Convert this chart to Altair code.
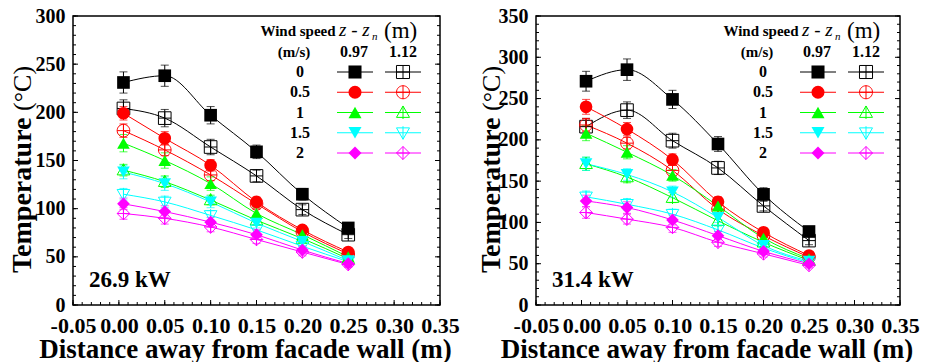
import altair as alt
import pandas as pd

FONT = "Liberation Serif"

X_POS = [0.005, 0.05, 0.10, 0.15, 0.20, 0.25]
WIND = ["0", "0.5", "1", "1.5", "2"]
COLORS = ["#000000", "#FF0000", "#00FF00", "#00FFFF", "#FF00FF"]

# 26.9 kW panel, rows follow WIND
A_097 = [[231, 238, 197, 159, 115, 80],
         [199, 173, 145, 107, 78, 55],
         [168, 150, 126, 95, 73, 50],
         [138, 126, 107, 85, 66, 46],
         [105, 97, 86, 73, 57, 43]]
A_112 = [[204, 194, 164, 134, 99, 73],
         [181, 161, 135, 105, 76, 53],
         [140, 128, 109, 88, 69, 48],
         [115, 107, 93, 78, 61, 45],
         [95, 90, 81, 68, 55, 42]]
A_097_ERR = [[11, 11, 9, 7, 6, 5], [7, 7, 6, 5, 4, 3], [9, 8, 7, 6, 4, 3],
             [7, 7, 6, 5, 4, 3], [6, 6, 5, 5, 4, 3]]
A_112_ERR = [[9, 9, 8, 6, 5, 4], [7, 6, 6, 5, 4, 3], [6, 6, 5, 5, 4, 3],
             [6, 6, 5, 5, 4, 3], [6, 6, 5, 4, 4, 3]]

# 31.4 kW panel
B_097 = [[271, 285, 249, 195, 134, 89],
         [240, 213, 176, 125, 88, 60],
         [208, 185, 157, 120, 81, 56],
         [171, 158, 137, 106, 72, 53],
         [126, 118, 103, 84, 65, 50]]
B_112 = [[216, 236, 199, 166, 120, 78],
         [218, 196, 163, 116, 84, 58],
         [171, 155, 130, 102, 76, 54],
         [131, 122, 110, 91, 69, 51],
         [112, 104, 94, 76, 62, 48]]
B_097_ERR = [[12, 13, 11, 9, 8, 6], [9, 8, 7, 6, 5, 4], [9, 8, 7, 6, 5, 4],
             [8, 7, 7, 6, 5, 4], [7, 7, 6, 5, 4, 3]]
B_112_ERR = [[10, 10, 9, 8, 6, 5], [8, 7, 7, 6, 5, 4], [8, 7, 6, 6, 5, 4],
             [7, 7, 6, 5, 4, 3], [7, 6, 6, 5, 4, 3]]

X_TICKS = [-0.05, 0.0, 0.05, 0.10, 0.15, 0.20, 0.25, 0.30, 0.35]
X_MINOR = [round(-0.05 + 0.01 * i, 2) for i in range(41)]

FILLED_SHAPES = ["square", "circle", "triangle-up", "triangle-down", "diamond"]
OPEN_SHAPES = [
    "M-1,-1L1,-1L1,1L-1,1Z M0,-1L0,1 M-1,0L1,0",
    "M-1,0A1,1,0,1,1,1,0A1,1,0,1,1,-1,0Z M0,-1L0,1 M-1,0L1,0",
    "M0,-1L1,0.75L-1,0.75Z M0,-1L0,1",
    "M0,1L1,-0.75L-1,-0.75Z M0,-1L0,1",
    "M0,-1L1,0L0,1L-1,0Z M0,-1L0,1 M-1,0L1,0",
]


def txt(s, x, y, size, weight="bold", style="normal", align="center",
        baseline="middle", angle=0):
    return alt.Chart(pd.DataFrame({"t": [s]})).mark_text(
        font=FONT, fontSize=size, fontWeight=weight, fontStyle=style,
        align=align, baseline=baseline, angle=angle, color="black"
    ).encode(x=alt.value(x), y=alt.value(y), text="t:N")


def panel(v97, v112, e97, e112, ymax, kw, w, h, ytx):
    recs = []
    for i, ws in enumerate(WIND):
        for z, vals, errs in (("0.97", v97, e97), ("1.12", v112, e112)):
            for x, v, e in zip(X_POS, vals[i], errs[i]):
                recs.append({"x": x, "T": v, "lo": v - e, "hi": v + e,
                             "ws": ws, "z": z, "series": ws + "|" + z})
    df = pd.DataFrame(recs)

    xsc = alt.Scale(domain=[-0.05, 0.35], nice=False, zero=False)
    ysc = alt.Scale(domain=[0, ymax], nice=False)
    xaxis = alt.Axis(values=X_TICKS, ticks=False, domain=False,
                     grid=False, labelFont=FONT, labelFontSize=22,
                     labelExpr="replace(format(datum.value, '.2f'), '\u2212', '-')",
                     labelFontWeight="bold", labelColor="black",
                     labelPadding=10, title=None, labelFlush=False,
                     labelOverlap=False)
    yvals = list(range(0, ymax + 1, 50))
    yminor = list(range(0, ymax + 1, 10))
    yaxis = alt.Axis(values=yvals, ticks=False, domain=False, grid=False,
                     labelFont=FONT, labelFontSize=20, labelFontWeight="bold",
                     labelColor="black", labelPadding=8, title=None,
                     labelFlush=False, labelOverlap=False)
    color = alt.Color("ws:N", scale=alt.Scale(domain=WIND, range=COLORS),
                      legend=None)
    X = alt.X("x:Q", scale=xsc, axis=xaxis)

    def Y(f):
        return alt.Y(f, scale=ysc, axis=yaxis)

    base = alt.Chart(df).encode(x=X, color=color)
    lines = base.mark_line(interpolate="monotone", strokeWidth=1).encode(
        y=Y("T:Q"), detail="series:N")
    bars = base.mark_rule(strokeWidth=1).encode(y=Y("lo:Q"), y2="hi:Q")
    cap_lo = base.mark_tick(orient="horizontal", size=8, thickness=1).encode(
        y=Y("lo:Q"))
    cap_hi = base.mark_tick(orient="horizontal", size=8, thickness=1).encode(
        y=Y("hi:Q"))
    opened = base.transform_filter(alt.datum.z == "1.12").mark_point(
        filled=False, opacity=1, size=160, strokeWidth=1).encode(
        y=Y("T:Q"),
        shape=alt.Shape("ws:N", scale=alt.Scale(domain=WIND, range=OPEN_SHAPES),
                        legend=None))
    filled = base.transform_filter(alt.datum.z == "0.97").mark_point(
        filled=True, opacity=1, size=160).encode(
        y=Y("T:Q"),
        shape=alt.Shape("ws:N", scale=alt.Scale(domain=WIND, range=FILLED_SHAPES),
                        legend=None))

    # inward ticks
    xt_major = alt.Chart(pd.DataFrame({"v": X_TICKS})).mark_rule(
        color="black", strokeWidth=1).encode(
        x=alt.X("v:Q", scale=xsc, axis=xaxis), y=alt.value(h), y2=alt.value(h - 5))
    xt_minor = alt.Chart(pd.DataFrame({"v": X_MINOR})).mark_rule(
        color="black", strokeWidth=1).encode(
        x=alt.X("v:Q", scale=xsc, axis=xaxis), y=alt.value(h), y2=alt.value(h - 3))
    yt = []
    for vals, ln in ((yvals, 5), (yminor, 3)):
        d = pd.DataFrame({"v": vals})
        yt.append(alt.Chart(d).mark_rule(color="black", strokeWidth=1).encode(
            y=alt.Y("v:Q", scale=ysc, axis=yaxis), x=alt.value(0), x2=alt.value(ln)))
        yt.append(alt.Chart(d).mark_rule(color="black", strokeWidth=1).encode(
            y=alt.Y("v:Q", scale=ysc, axis=yaxis), x=alt.value(w), x2=alt.value(w - ln)))

    # legend
    leg = pd.DataFrame({"ws": WIND, "idx": list(range(len(WIND)))})
    lb = alt.Chart(leg).transform_calculate(py="56 + 20.25 * datum.idx")
    PY = alt.Y("py:Q", scale=None)
    leg_layers = [
        lb.mark_rule(strokeWidth=1).encode(x=alt.value(264), x2=alt.value(300), y=PY, color=color),
        lb.mark_rule(strokeWidth=1).encode(x=alt.value(312), x2=alt.value(348), y=PY, color=color),
        lb.mark_point(filled=True, opacity=1, size=170).encode(
            x=alt.value(282), y=PY, color=color,
            shape=alt.Shape("ws:N", scale=alt.Scale(domain=WIND, range=FILLED_SHAPES), legend=None)),
        lb.mark_point(filled=False, opacity=1, size=170, strokeWidth=1).encode(
            x=alt.value(330), y=PY, color=color,
            shape=alt.Shape("ws:N", scale=alt.Scale(domain=WIND, range=OPEN_SHAPES), legend=None)),
        lb.mark_text(font=FONT, fontSize=16, fontWeight="bold", color="black").encode(
            x=alt.value(227), y=PY, text="ws:N"),
    ]
    texts = [
        txt("Wind speed", 225, 15, 15),
        txt("(m/s)", 221, 36, 15),
        txt("0.97", 281, 36, 16),
        txt("1.12", 330, 36, 16),
        txt("z - z", 266, 20, 19, weight="normal", style="italic", align="left",
            baseline="alphabetic"),
        txt("n", 299, 24, 11, weight="normal", style="italic", align="left",
            baseline="alphabetic"),
        txt("(m)", 311, 15, 23, weight="normal", align="left"),
        txt(kw, 16, 271, 23, align="left", baseline="alphabetic"),
        txt("Temperature", ytx, 257, 28, align="left", angle=270),
        txt("(°C)", ytx, 95, 26, weight="normal", align="left", angle=270),
        txt("Distance away from facade wall (m)", w / 2 - 11, h + 53, 27,
            baseline="alphabetic"),
    ]
    layers = [xt_major, xt_minor] + yt + [lines, bars, cap_lo, cap_hi, opened,
                                          filled] + leg_layers + texts
    return alt.layer(*layers).resolve_scale(shape="independent").properties(
        width=w, height=h)


H = 289
left = panel(A_097, A_112, A_097_ERR, A_112_ERR, 300, "26.9 kW", 367, H, -50)
right = panel(B_097, B_112, B_097_ERR, B_112_ERR, 350, "31.4 kW", 364, H, -44)

chart = alt.hconcat(left, right, spacing=96, bounds="flush").properties(
    padding={"left": 0, "top": -3, "right": 0, "bottom": 0},
).configure_view(stroke="black", strokeWidth=1.5)

chart.save("out.html", embed_options={"renderer": "svg", "actions": False})
